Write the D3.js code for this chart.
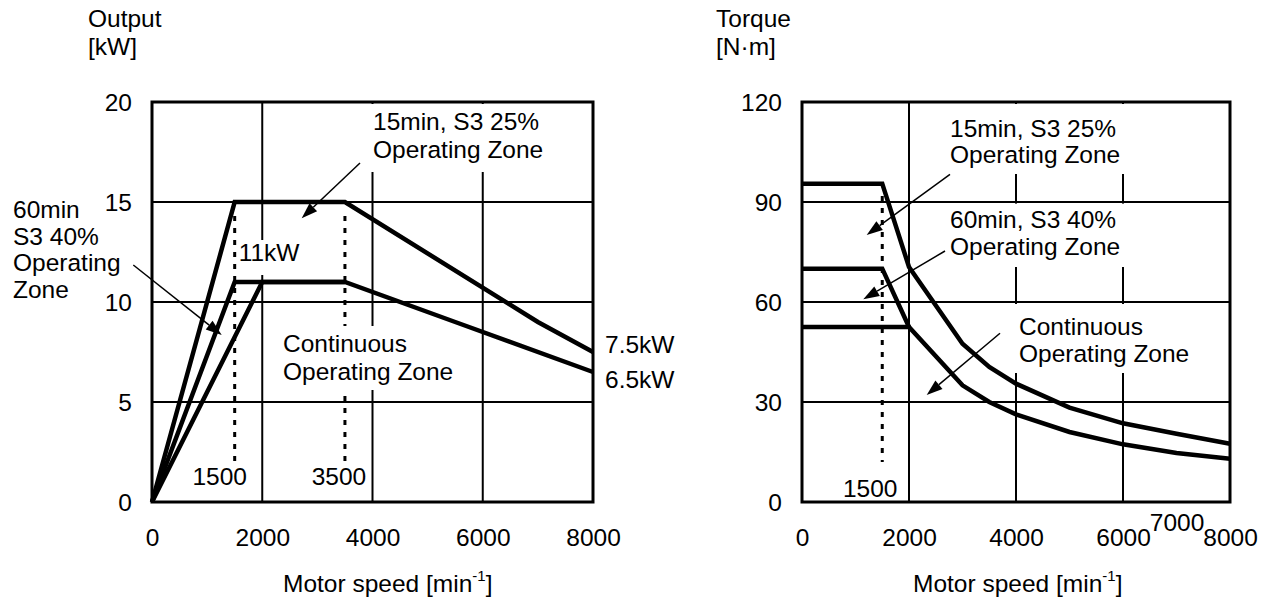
<!DOCTYPE html>
<html>
<head>
<meta charset="utf-8">
<script src="https://cdn.jsdelivr.net/npm/d3@7"></script>
<style>
  body { margin: 0; background: #fff; }
  svg text { font-family: "Liberation Sans", Arial, sans-serif; font-size: 24.5px; fill: #000; }
</style>
</head>
<body>
<svg id="chart" width="1267" height="600"></svg>
<script>
// ---- Output characteristics [kW] ----
const outputTicks = [0, 5, 10, 15, 20];
const outputGrid = [5, 10, 15];
const speedTicks = [0, 2000, 4000, 6000, 8000];
const speedGrid = [2000, 4000, 6000];

const out15Speed = [0, 1500, 3500, 7000, 8000];
const out15Value = [0, 15, 15, 9, 7.5];
const out60Speed = [0, 1500, 3500];
const out60Value = [0, 11, 11];
const outContSpeed = [0, 2000, 3500, 5500, 8000];
const outContValue = [0, 11, 11, 9, 6.5];
const outputGuideSpeeds = [1500, 3500];

// ---- Torque characteristics [N·m] ----
const torqueTicks = [0, 30, 60, 90, 120];
const torqueGrid = [30, 60, 90];
const torqueSpeedTicks = [0, 2000, 4000, 6000, 7000, 8000];

const trq15Speed = [0, 1500, 2000, 3000, 3500, 4000, 5000, 6000, 7000, 8000];
const trq15Value = [95.5, 95.5, 70.5, 47.5, 40.5, 35.5, 28.3, 23.6, 20.5, 17.5];
const trq60Speed = [0, 1500, 2000];
const trq60Value = [70, 70, 52.5];
const trqContSpeed = [0, 2000, 3000, 3500, 4000, 5000, 6000, 7000, 8000];
const trqContValue = [52.5, 52.5, 35, 30, 26.3, 21, 17.3, 14.7, 13];
const torqueGuideSpeeds = [1500];

const svg = d3.select("#chart");

function zip(sp, va) { return sp.map((s, i) => ({ s, v: va[i] })); }

function textBlock(g, lines, x, y, lh) {
  const t = g.append("text").attr("x", x).attr("y", y);
  lines.forEach((l, i) => t.append("tspan").attr("x", x).attr("dy", i ? lh : 0).text(l));
  return t;
}

function arrow(g, a) {
  const [x1, y1, x2, y2] = a;
  const dx = x2 - x1, dy = y2 - y1, len = Math.hypot(dx, dy);
  const ux = dx / len, uy = dy / len;
  const hl = 16, hw = 5.5;
  const bx = x2 - ux * hl, by = y2 - uy * hl;
  g.append("line").attr("x1", x1).attr("y1", y1).attr("x2", bx).attr("y2", by)
    .attr("stroke", "#000").attr("stroke-width", 1.5);
  g.append("path")
    .attr("d", `M${x2},${y2}L${bx - uy * hw},${by + ux * hw}L${bx + uy * hw},${by - ux * hw}Z`)
    .attr("fill", "#000");
}

function drawPanel(p) {
  const x = d3.scaleLinear().domain([0, 8000]).range([p.x0, p.x1]);
  const y = d3.scaleLinear().domain([0, p.yMax]).range([502, 102]);
  const g = svg.append("g");

  // grid
  g.append("g").selectAll("line").data(p.gridX).join("line")
    .attr("x1", d => x(d)).attr("x2", d => x(d)).attr("y1", y(0)).attr("y2", y(p.yMax))
    .attr("stroke", "#000").attr("stroke-width", 2);
  g.append("g").selectAll("line").data(p.gridY).join("line")
    .attr("x1", x(0)).attr("x2", x(8000)).attr("y1", d => y(d)).attr("y2", d => y(d))
    .attr("stroke", "#000").attr("stroke-width", 2);

  // dotted speed guides
  g.append("g").selectAll("line").data(p.guides).join("line")
    .attr("x1", d => x(d)).attr("x2", d => x(d))
    .attr("y1", y(p.guideTop)).attr("y2", y(p.guideBottom))
    .attr("stroke", "#000").attr("stroke-width", 3).attr("stroke-dasharray", "5,7");

  // white backings behind annotation text
  g.append("g").selectAll("rect").data(p.boxes).join("rect")
    .attr("x", d => d[0]).attr("y", d => d[1])
    .attr("width", d => d[2] - d[0]).attr("height", d => d[3] - d[1])
    .attr("fill", "#fff");

  // frame
  g.append("rect").attr("x", x(0)).attr("y", y(p.yMax))
    .attr("width", x(8000) - x(0)).attr("height", y(0) - y(p.yMax))
    .attr("fill", "none").attr("stroke", "#000").attr("stroke-width", 3);

  // characteristic curves
  const line = d3.line().x(d => x(d.s)).y(d => y(d.v));
  g.append("g").selectAll("path").data(p.series).join("path")
    .attr("d", d => line(d)).attr("fill", "none")
    .attr("stroke", "#000").attr("stroke-width", 4.5).attr("stroke-linejoin", "miter");

  // axes
  const ax = g.append("g").attr("transform", `translate(0,${y(0)})`)
    .call(d3.axisBottom(x).tickValues(p.xTicks).tickSize(0).tickPadding(27).tickFormat(d3.format("d")));
  ax.select(".domain").remove();
  ax.attr("font-size", null).attr("font-family", null);
  ax.selectAll(".tick").filter(d => p.raised.includes(d)).select("text").attr("y", 12);

  const ay = g.append("g").attr("transform", `translate(${x(0)},0)`)
    .call(d3.axisLeft(y).tickValues(p.yTicks).tickSize(0).tickPadding(20));
  ay.select(".domain").remove();
  ay.attr("font-size", null).attr("font-family", null);
  ay.selectAll("text").attr("dy", "0.36em");

  // axis titles
  textBlock(g, p.yTitle, p.yTitleX, 27, 28);
  const xt = g.append("text").attr("x", p.xTitleX).attr("y", 592);
  xt.append("tspan").text("Motor speed [min");
  xt.append("tspan").attr("dy", -11).style("font-size", "15px").text("-1");
  xt.append("tspan").attr("dy", 11).text("]");

  // speed labels on guides
  p.guideLabels.forEach(l => {
    g.append("text").attr("x", x(l.s) + l.dx).attr("y", y(0) + l.dy)
      .attr("text-anchor", "middle").text(l.s);
  });

  // value labels
  p.valueLabels.forEach(l => {
    g.append("text").attr("x", x(l.s) + l.dx).attr("y", y(l.v) + l.dy).text(l.text);
  });

  // zone annotations
  p.notes.forEach(n => textBlock(g, n.lines, n.x, n.y, n.lh));
  p.arrows.forEach(a => arrow(g, a));
}

drawPanel({
  x0: 152, x1: 593, yMax: 20,
  xTicks: speedTicks, yTicks: outputTicks, raised: [],
  gridX: speedGrid, gridY: outputGrid,
  guides: outputGuideSpeeds, guideTop: 14.3, guideBottom: 2,
  series: [zip(out15Speed, out15Value), zip(out60Speed, out60Value), zip(outContSpeed, outContValue)],
  boxes: [[368, 104, 552, 172], [237, 240, 303, 275], [279, 326, 461, 390]],
  yTitle: ["Output", "[kW]"], yTitleX: 88, xTitleX: 283,
  guideLabels: [{ s: 1500, dx: -15, dy: -17 }, { s: 3500, dx: -6, dy: -17 }],
  valueLabels: [
    { s: 1500, v: 11, dx: 4, dy: -21, text: "11kW" },
    { s: 8000, v: 7.5, dx: 12, dy: 1, text: "7.5kW" },
    { s: 8000, v: 6.5, dx: 12, dy: 16, text: "6.5kW" }
  ],
  notes: [
    { lines: ["15min, S3 25%", "Operating Zone"], x: 373, y: 130, lh: 27.5 },
    { lines: ["60min", "S3 40%", "Operating", "Zone"], x: 13, y: 218, lh: 26.7 },
    { lines: ["Continuous", "Operating Zone"], x: 283, y: 352, lh: 27.5 }
  ],
  arrows: [[360, 163, 301.7, 218.3], [133.3, 265, 221.7, 335]]
});

drawPanel({
  x0: 802, x1: 1230, yMax: 120,
  xTicks: torqueSpeedTicks, yTicks: torqueTicks, raised: [7000],
  gridX: speedGrid, gridY: torqueGrid,
  guides: torqueGuideSpeeds, guideTop: 91.8, guideBottom: 12,
  series: [zip(trq15Speed, trq15Value), zip(trq60Speed, trq60Value), zip(trqContSpeed, trqContValue)],
  boxes: [[945, 104, 1128, 174], [945, 203.6, 1150, 267], [1014, 304, 1229, 373]],
  yTitle: ["Torque", "[N·m]"], yTitleX: 716, xTitleX: 913,
  guideLabels: [{ s: 1500, dx: -12, dy: -5 }],
  valueLabels: [],
  notes: [
    { lines: ["15min, S3 25%", "Operating Zone"], x: 950, y: 136.7, lh: 26.7 },
    { lines: ["60min, S3 40%", "Operating Zone"], x: 950, y: 228.3, lh: 26.7 },
    { lines: ["Continuous", "Operating Zone"], x: 1019, y: 335, lh: 26.7 }
  ],
  arrows: [[950, 174.3, 866.7, 235], [945, 251, 863.3, 299.3], [1000, 333.3, 926.7, 395]]
});
</script>
</body>
</html>
